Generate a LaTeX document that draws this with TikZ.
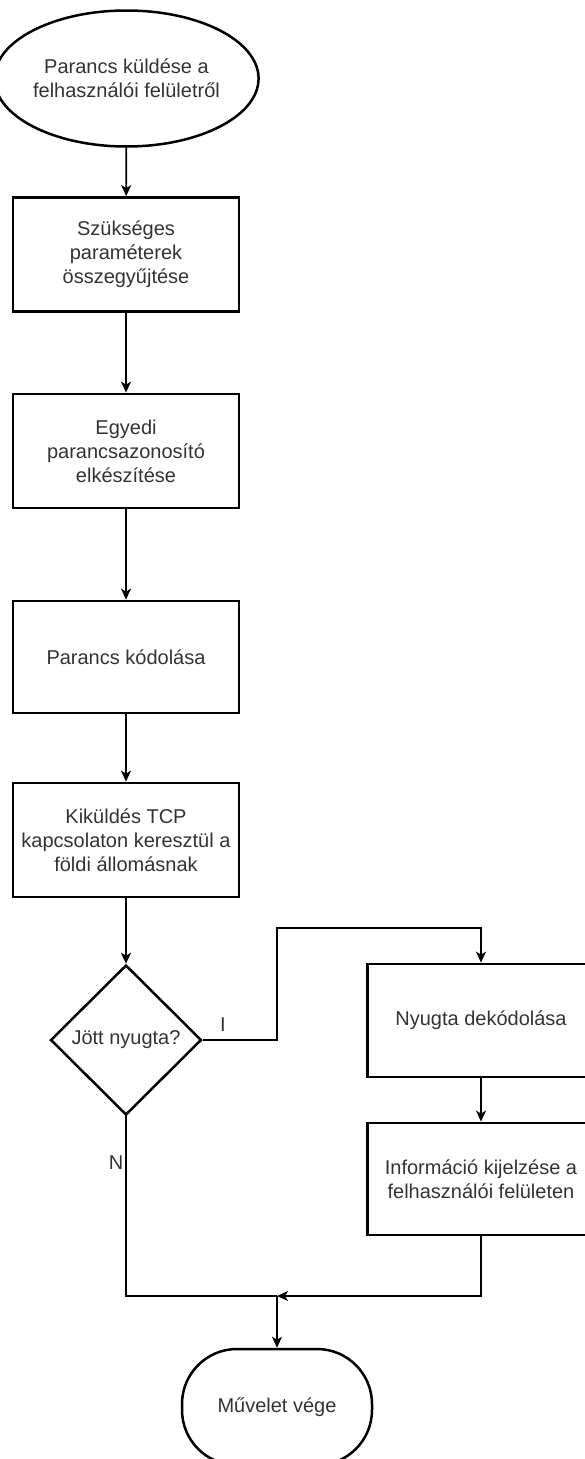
\documentclass[tikz,border=0pt]{standalone}
\usepackage{fontspec}
\setmainfont{Liberation Sans}
\usetikzlibrary{shapes.geometric,arrows.meta}
\definecolor{txt}{RGB}{51,51,51}
\begin{document}
\begin{tikzpicture}[x=1pt,y=-1pt,
  every node/.style={font=\fontsize{20}{24}\selectfont, text=txt},
  proc/.style={draw=black, line width=2.8pt, minimum width=226pt,
    minimum height=114pt, inner sep=0pt, align=center},
  startnode/.style={ellipse, draw=black, line width=2.5pt, minimum width=226pt,
    minimum height=136pt, inner sep=0pt, align=center},
  decision/.style={diamond, draw=black, line width=2.5pt, minimum width=151pt,
    minimum height=150pt, inner sep=0pt, aspect=1},
  endnode/.style={rectangle, rounded corners=55pt, draw=black, line width=2.5pt,
    minimum width=190pt, minimum height=116pt, inner sep=0pt},
  conn/.style={draw=black, line width=1.7pt},
  flow/.style={conn, -{Stealth[length=11pt,width=10pt,inset=3pt]}},
  lbl/.style={font=\fontsize{20}{24}\selectfont, inner sep=0pt}
]
\useasboundingbox (0,0) rectangle (585,1459);

% main column of steps
\node[startnode] (start) at (126.5,78.5) {Parancs küldése a\\felhasználói felületről};
\node[proc] (params) at (126,254.5) {Szükséges\\paraméterek\\összegyűjtése};
\node[proc] (ident) at (126,451) {Egyedi\\parancsazonosító\\elkészítése};
\node[proc, minimum height=112pt] (encode) at (126,657) {Parancs kódolása};
\node[proc] (send) at (126,840) {Kiküldés TCP\\kapcsolaton keresztül a\\földi állomásnak};
\node[decision] (ack) at (126,1040) {Jött nyugta?};

% acknowledgement branch
\node[proc, minimum width=227pt, minimum height=113pt] (decode) at (481,1020.5) {Nyugta dekódolása};
\node[proc, minimum width=227pt, minimum height=112pt] (show) at (481,1179) {Információ kijelzése a\\felhasználói felületen};

% terminal
\node[endnode] (finish) at (277,1407) {Művelet vége};

% routing points
\coordinate (bend) at (277,928);
\coordinate (join) at (277,1296);

% connectors
\draw[flow] (start) -- (params);
\draw[flow] (params) -- (ident);
\draw[flow] (ident) -- (encode);
\draw[flow] (encode) -- (send);
\draw[flow] (send) -- (ack);
\draw[flow] (ack.east) -| (bend) -| (decode.north);
\draw[flow] (decode) -- (show);
\draw[conn] (ack.south) |- (join);
\draw[flow] (show.south) |- (join);
\draw[flow] (join) -- (finish.north);

% branch labels
\node[lbl] (yes) at (223,1025) {I};
\node[lbl] (no) at (116,1163) {N};
\end{tikzpicture}
\end{document}
